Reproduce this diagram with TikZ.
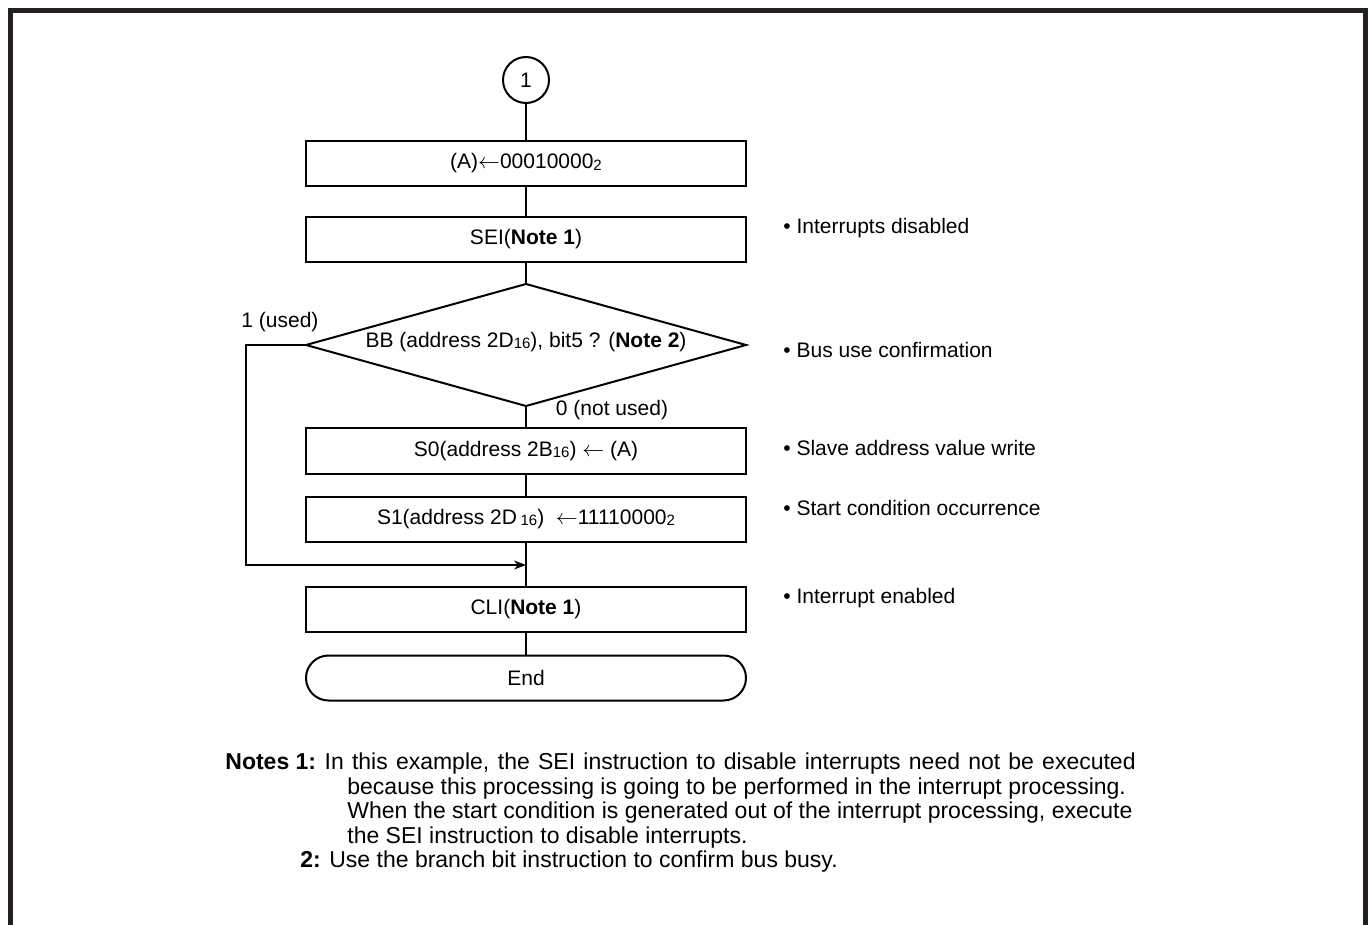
\documentclass[tikz,border=0pt]{standalone}
\usepackage{fontspec}
\setmainfont{Liberation Sans}
\usetikzlibrary{arrows.meta}
\definecolor{framecol}{HTML}{231F20}
\newcommand\lowsub[1]{{\fontsize{7.5pt}{7.5pt}\selectfont\raisebox{-0.6pt}{#1}}}
\begin{document}
\begin{tikzpicture}[x=0.5pt,y=-0.5pt,
  every node/.style={font=\fontsize{10.5pt}{12.5pt}\selectfont, inner sep=0pt},
  stepbox/.style={draw, line width=1pt, minimum width=220pt, minimum height=22.5pt},
  termbox/.style={stepbox, rounded corners=11.25pt},
  decision/.style={minimum width=220pt, minimum height=61pt, outer sep=0pt},
  decisionline/.style={line width=1pt, line join=miter},
  conn/.style={line width=0.55pt},
  loopline/.style={line width=0.55pt, -{Stealth[length=6pt,width=4.5pt]}},
  note/.style={anchor=base west, font=\fontsize{11.5pt}{12.25pt}\selectfont},
  annot/.style={anchor=west},
  frame/.style={line width=2.6pt, draw=framecol, line join=miter}
]
\useasboundingbox (0,0) rectangle (1372,925);
\draw[frame] (10.5,925) -- (10.5,10.5) -- (1365.5,10.5) -- (1365.5,925);

\node[circle, draw, line width=1pt, minimum size=23pt] (c1) at (526,80) {1};
\node[stepbox] (b1) at (526,163.5) {(A)$\leftarrow$00010000\lowsub{2}};
\node[stepbox] (sei) at (526,239.5) {SEI(\textbf{Note 1})};
\node[decision] (dia) at (526,345) {};
\node (diat) at (526,342) {BB (address 2D\lowsub{16}), bit5 ? (\textbf{Note 2})};
\draw[decisionline] (dia.north) -- (dia.east) -- (dia.south) -- (dia.west) -- cycle;
\node[stepbox] (s0) at (526,451) {S0(address 2B\lowsub{16}) $\leftarrow$ (A)};
\node[stepbox] (s1) at (526,519) {S1(address 2D\,\lowsub{16})\ \ $\leftarrow$11110000\lowsub{2}};
\coordinate (j) at (526,565);
\coordinate (lc) at (246,345);
\node[stepbox] (cli) at (526,609.5) {CLI(\textbf{Note 1})};
\node[termbox] (end) at (526,678) {End};

\draw[conn] (c1.south) -- (b1.north);
\draw[conn] (b1.south) -- (sei.north);
\draw[conn] (sei.south) -- (dia.north);
\draw[conn] (dia.south) -- (s0.north);
\draw[conn] (s0.south) -- (s1.north);
\draw[conn] (s1.south) -- (cli.north);
\draw[conn] (cli.south) -- (end.north);
\draw[loopline] (dia.west) -- (lc) |- (j);

\node (lused) at (280,322) {1 (used)};
\node (lnot) at (612,410) {0 (not used)};

\node[annot] (a1) at (783,228) {• Interrupts disabled};
\node[annot] (a2) at (783,350) {• Bus use confirmation};
\node[annot] (a3) at (783,448) {• Slave address value write};
\node[annot] (a4) at (783,508) {• Start condition occurrence};
\node[annot] (a5) at (783,598) {• Interrupt enabled};

\node[note] (n1) at (225,769) {\textbf{Notes 1:} \makebox[405.5pt][s]{In this example, the SEI instruction to disable interrupts need not be executed}};
\node[note] (n2) at (347,794) {because this processing is going to be performed in the interrupt processing.};
\node[note] (n3) at (347,818) {When the start condition is generated out of the interrupt processing, execute};
\node[note] (n4) at (347,843) {the SEI instruction to disable interrupts.};
\node[note] (n5) at (300,867) {\textbf{2:} Use the branch bit instruction to confirm bus busy.};
\end{tikzpicture}
\end{document}
